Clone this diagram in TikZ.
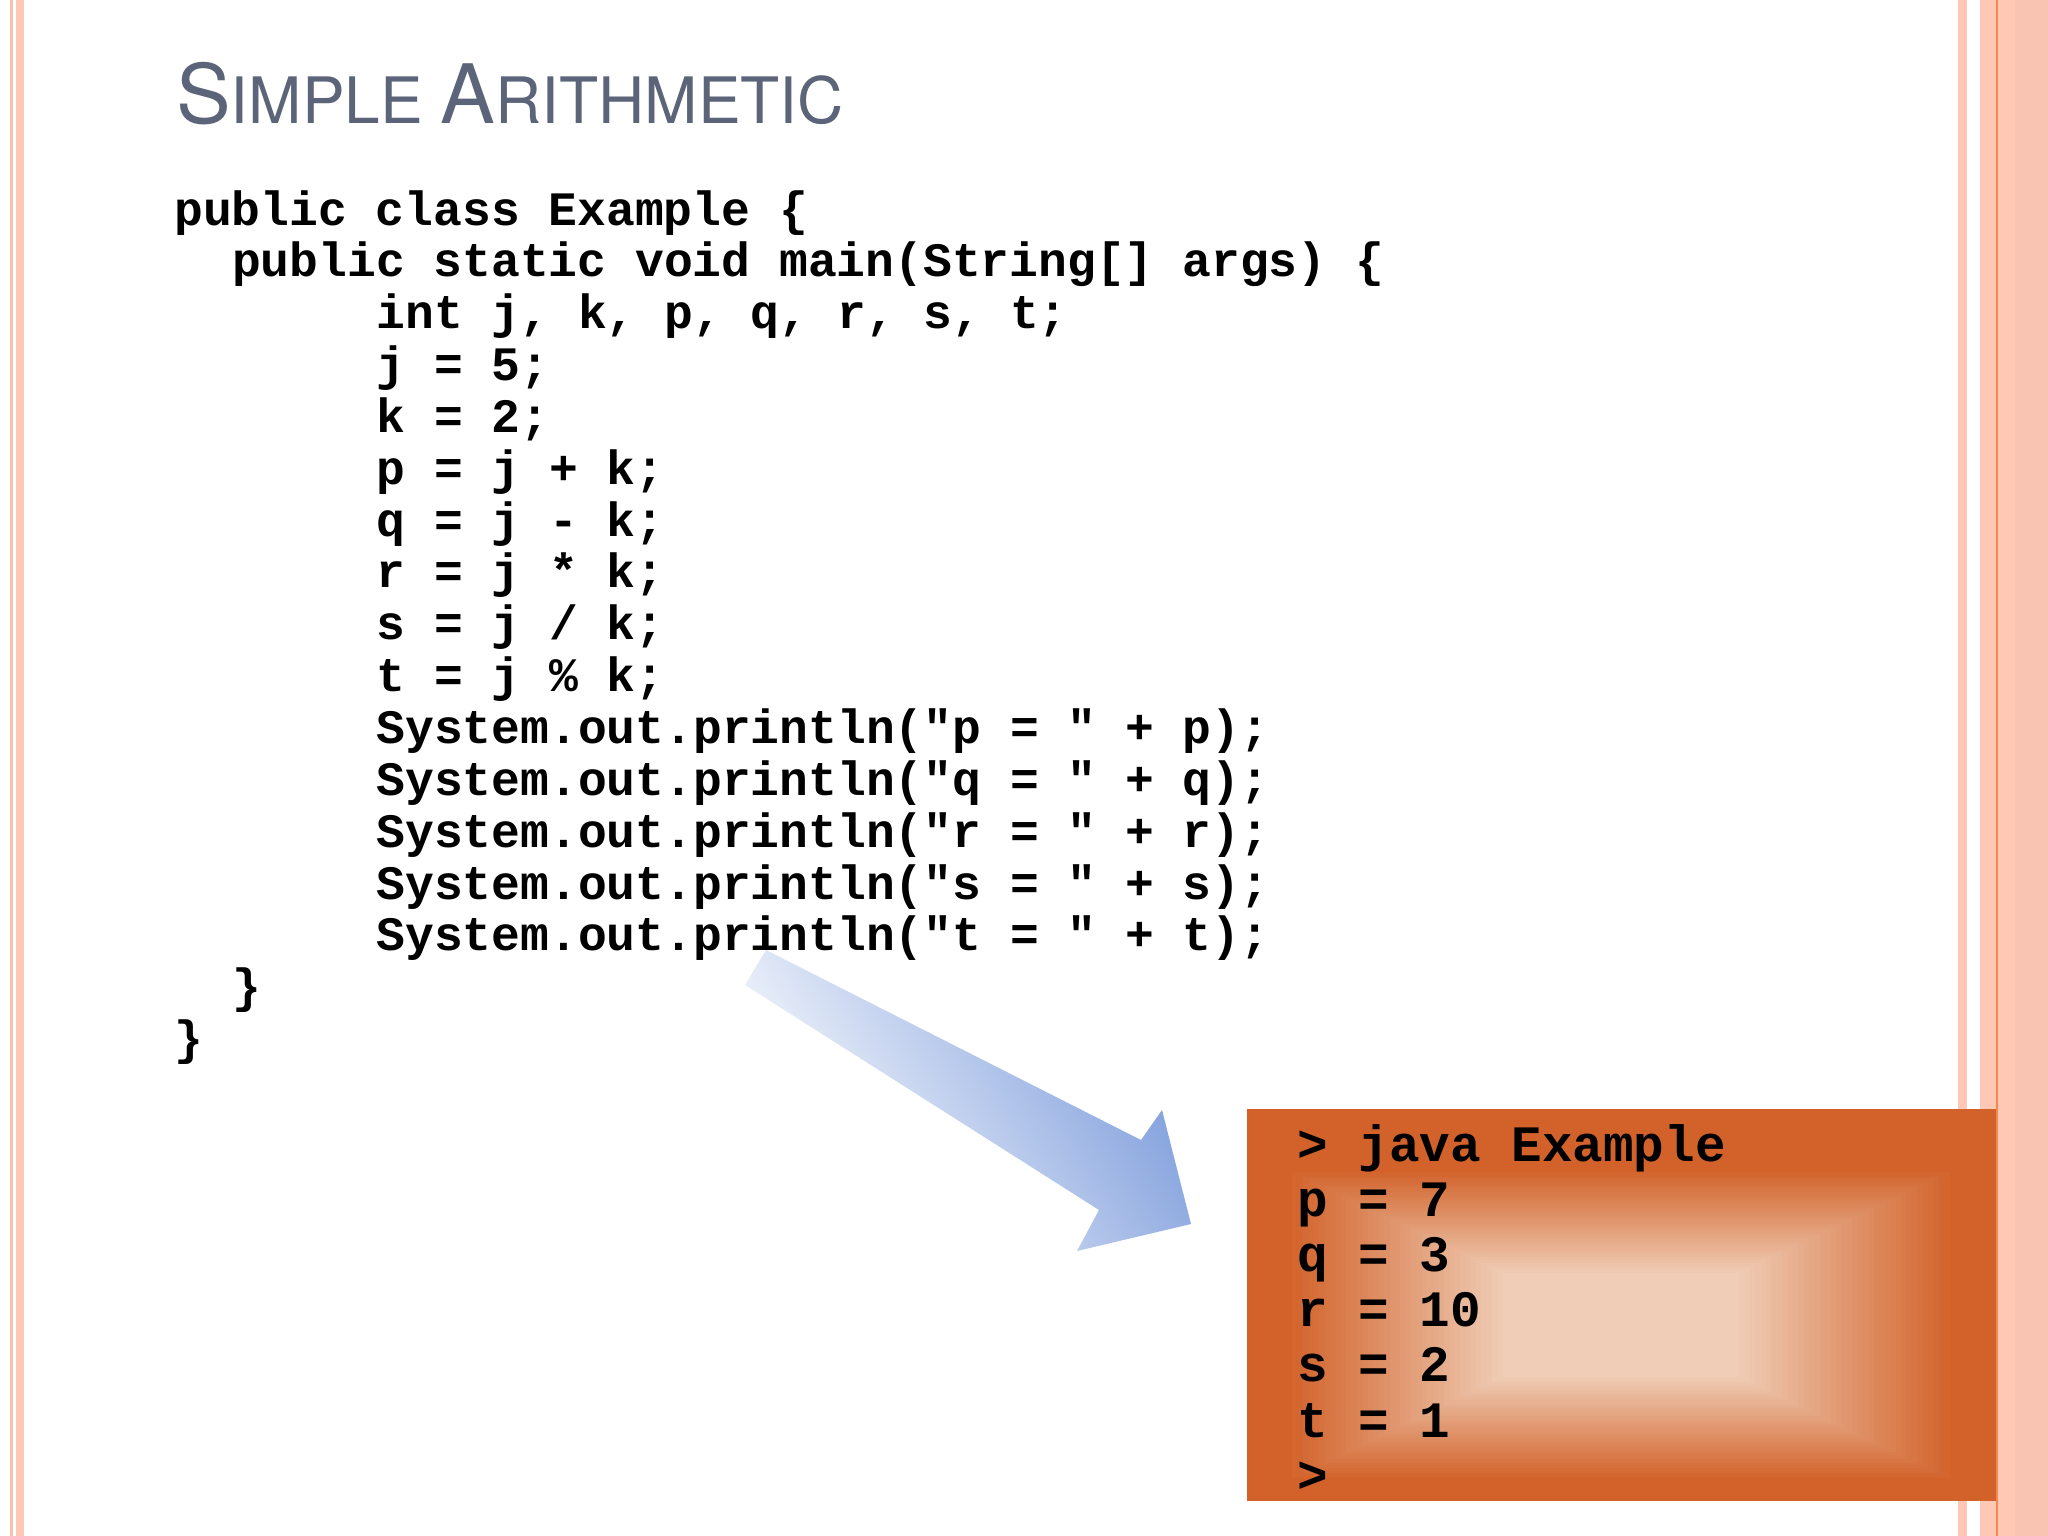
\documentclass[tikz,border=0pt]{standalone}
\usepackage{fontspec}
\newfontfamily\codefont{Liberation Mono}
\newfontfamily\titlefont{TeX Gyre Heros}
\definecolor{stripe}{HTML}{FFC8B4}
\definecolor{stripeb}{HTML}{F6C2B0}
\definecolor{stripeline}{HTML}{F08A50}
\definecolor{titlecol}{HTML}{5B6478}
\definecolor{boxor}{HTML}{D2622A}
\definecolor{boxlight}{HTML}{EFCDB6}
\definecolor{arrowblue}{HTML}{7B9BDB}
\tikzset{
  codeline/.style={anchor=base west,inner sep=0pt,font=\codefont\bfseries\fontsize{48}{52}\selectfont},
  outline/.style={anchor=base west,inner sep=0pt,font=\codefont\bfseries\fontsize{51}{55}\selectfont},
}
\begin{document}
\begin{tikzpicture}[x=1pt,y=-1pt]
\useasboundingbox (0,0) rectangle (2048,1536);
\fill[white] (0,0) rectangle (2048,1536);
% left stripes
\fill[stripeb] (10,0) rectangle (13,1536);
\fill[stripe] (16,0) rectangle (24,1536);
% right stripes
\fill[stripe] (1958,0) rectangle (1967,1536);
\fill[stripe] (1980,0) rectangle (2048,1536);
\fill[stripeline] (1996,0) rectangle (1998,1536);
\fill[stripeb!70!stripe] (2015,0) rectangle (2048,1536);
% title
\node[anchor=base west,inner sep=0pt,text=titlecol,font=\titlefont] (title) at (176,124)
  {\fontsize{82}{90}\selectfont S\fontsize{64}{70}\selectfont IMPLE \fontsize{82}{90}\selectfont A\fontsize{64}{70}\selectfont RITHMETIC};
% code
\def\cw{28.9}
\node[codeline] (l0) at (174,225) {public class Example \{};
\node[codeline] (l1) at (174+2*\cw,276.85) {public static void main(String[] args) \{};
\node[codeline] (l2) at (174+7*\cw,328.7) {int j, k, p, q, r, s, t;};
\node[codeline] (l3) at (174+7*\cw,380.55) {j = 5;};
\node[codeline] (l4) at (174+7*\cw,432.4) {k = 2;};
\node[codeline] (l5) at (174+7*\cw,484.25) {p = j + k;};
\node[codeline] (l6) at (174+7*\cw,536.1) {q = j - k;};
\node[codeline] (l7) at (174+7*\cw,587.95) {r = j * k;};
\node[codeline] (l8) at (174+7*\cw,639.8) {s = j / k;};
\node[codeline] (l9) at (174+7*\cw,691.65) {t = j \% k;};
\node[codeline] (l10) at (174+7*\cw,743.5) {System.out.println("p = " + p);};
\node[codeline] (l11) at (174+7*\cw,795.35) {System.out.println("q = " + q);};
\node[codeline] (l12) at (174+7*\cw,847.2) {System.out.println("r = " + r);};
\node[codeline] (l13) at (174+7*\cw,899.05) {System.out.println("s = " + s);};
\node[codeline] (l14) at (174+7*\cw,950.9) {System.out.println("t = " + t);};
\node[codeline] (l15) at (174+2*\cw,1002.75) {\}};
\node[codeline] (l16) at (174,1054.6) {\}};
% output box
\fill[boxor] (1247,1109) rectangle (1996,1501);
\foreach \k in {0,...,40}{
  \pgfmathsetmacro{\f}{100*\k/40}
  \pgfmathsetmacro{\hx}{334-\k*5.4}
  \pgfmathsetmacro{\hy}{156-\k*2.6}
  \fill[boxlight!\f!boxor] (1621-\hx,1325-\hy) rectangle (1621+\hx,1325+\hy);
}
\node[outline] (o0) at (1297,1161) {> java Example};
\node[outline] (o1) at (1297,1216.2) {p = 7};
\node[outline] (o2) at (1297,1271.4) {q = 3};
\node[outline] (o3) at (1297,1326.6) {r = 10};
\node[outline] (o4) at (1297,1381.8) {s = 2};
\node[outline] (o5) at (1297,1437) {t = 1};
\node[outline] (o6) at (1297,1492.2) {>};
% arrow
\coordinate (tip) at (1191,1224);
\coordinate (h1) at (1162,1110);
\coordinate (h2) at (1077,1251);
\coordinate (s1) at (1141,1140);
\coordinate (s2) at (1099,1210);
\coordinate (a1) at (766,950);
\coordinate (a2) at (745,985);
\shade[left color=white,right color=arrowblue,shading angle=122]
  (a1) -- (s1) -- (h1) -- (tip) -- (h2) -- (s2) -- (a2) -- cycle;
\end{tikzpicture}
\end{document}
